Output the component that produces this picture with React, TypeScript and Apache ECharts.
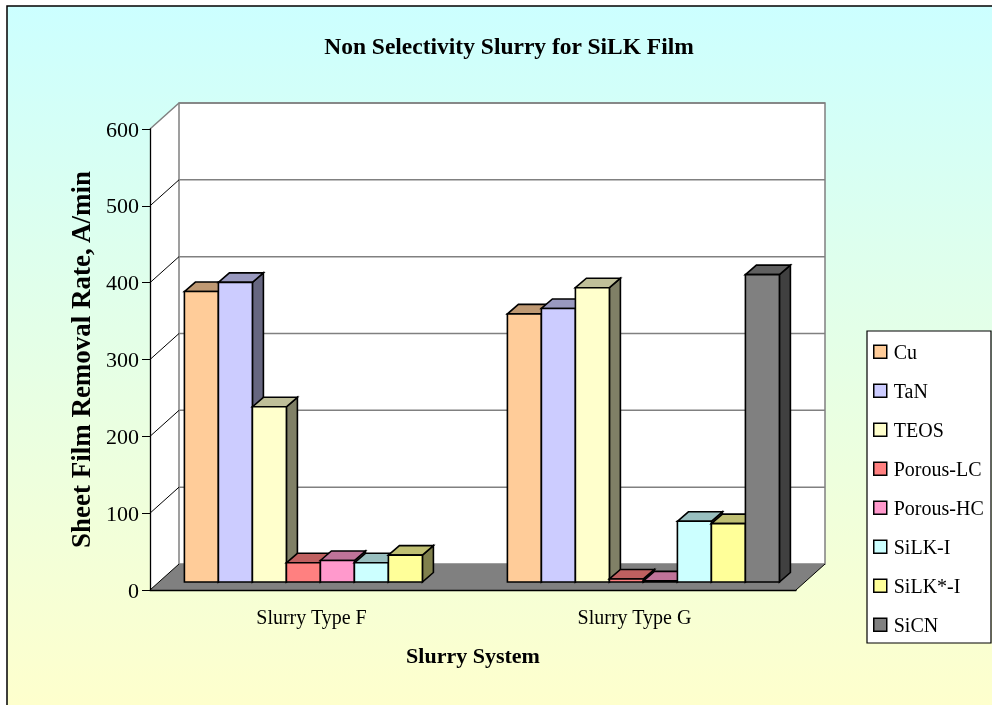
import React, { useEffect, useRef } from 'react';
import * as echarts from 'echarts';

const categories = ['Slurry Type F', 'Slurry Type G'];
const seriesNames = ['Cu', 'TaN', 'TEOS', 'Porous-LC', 'Porous-HC', 'SiLK-I', 'SiLK*-I', 'SiCN'];
const cuValues = [378, 349];
const tanValues = [390, 356];
const teosValues = [228, 383];
const porousLcValues = [25, 4];
const porousHcValues = [28, 1.5];
const silkIValues = [25, 79];
const silkStarIValues = [35, 76];
const sicnValues: (number | null)[] = [null, 400];
const seriesValues = [cuValues, tanValues, teosValues, porousLcValues, porousHcValues, silkIValues, silkStarIValues, sicnValues];
const yMin = 0;
const yMax = 600;
const yStep = 100;
const yTicks = [0, 100, 200, 300, 400, 500, 600];

const frontColors = ['#FFCC99', '#CCCCFF', '#FFFFCC', '#FF8080', '#FF99CC', '#CCFFFF', '#FFFF99', '#808080'];

const shade = (hex: string, f: number) => {
  const n = parseInt(hex.slice(1), 16);
  const r = Math.round(((n >> 16) & 255) * f);
  const g = Math.round(((n >> 8) & 255) * f);
  const b = Math.round((n & 255) * f);
  return `rgb(${r},${g},${b})`;
};

// 3D geometry (pixels)
const DX = 29;
const DY = 26;
const FRONT_DX = 8.9;
const FRONT_DY = 8;
const BAR_DX = 11;
const BAR_DY = 9.5;
const BAR_RATIO = 34 / 323;
const SERIF = "'Liberation Serif', 'Times New Roman', serif";

export default function App() {
  const ref = useRef<HTMLDivElement>(null);
  useEffect(() => {
    if (!ref.current) return;
    const chart = echarts.init(ref.current, null, { renderer: 'svg' });

    const wallSeries: any = {
      type: 'custom',
      z: 1,
      silent: true,
      clip: false,
      data: [[0, 0]],
      encode: { x: 0, y: 1 },
      renderItem: (params: any, api: any) => {
        const cs = params.coordSys;
        const x0 = cs.x;
        const x1 = cs.x + cs.width;
        const yb = cs.y + cs.height;
        const yt = api.coord([0, yMax])[1];
        const children: any[] = [];
        children.push({
          type: 'polygon',
          shape: { points: [[x0, yt], [x0 + DX, yt - DY], [x0 + DX, yb - DY], [x0, yb]] },
          style: { fill: '#ffffff', stroke: null },
        });
        children.push({
          type: 'rect',
          shape: { x: x0 + DX, y: yt - DY, width: x1 - x0, height: yb - yt },
          style: { fill: '#ffffff', stroke: '#808080', lineWidth: 1.5 },
        });
        children.push({
          type: 'polygon',
          shape: { points: [[x0, yb], [x0 + DX, yb - DY], [x1 + DX, yb - DY], [x1, yb]] },
          style: { fill: '#808080', stroke: null },
        });
        yTicks.forEach((v) => {
          const y = api.coord([0, v])[1];
          if (v !== yMin) {
            children.push({
              type: 'line',
              shape: { x1: x0 + DX, y1: y - DY, x2: x1 + DX, y2: y - DY },
              style: { stroke: '#808080', lineWidth: 1.5 },
            });
          }
          children.push({
            type: 'line',
            shape: { x1: x0, y1: y, x2: x0 + DX, y2: y - DY },
            style: { stroke: v === yMax ? '#808080' : '#000000', lineWidth: v === yMax ? 1.5 : 1 },
          });
        });
        children.push({
          type: 'line',
          shape: { x1: x1, y1: yb, x2: x1 + DX, y2: yb - DY },
          style: { stroke: '#000000', lineWidth: 1 },
        });
        return { type: 'group', children };
      },
    };

    const barSeries = seriesNames.map((name, k) => ({
      type: 'custom',
      name,
      z: 2,
      clip: false,
      itemStyle: { color: frontColors[k] },
      encode: { x: 0, y: 1 },
      data: seriesValues[k]
        .map((v, i) => (v == null ? null : [i, v]))
        .filter((d) => d !== null),
      renderItem: (params: any, api: any) => {
        const v = api.value(1);
        if (v == null || isNaN(v)) return null;
        const cat = api.value(0);
        const base = api.coord([cat, 0]);
        const topP = api.coord([cat, v]);
        const band = api.size([1, 0])[0];
        const barW = band * BAR_RATIO;
        const gap = (band - seriesNames.length * barW) / 2;
        const fx = base[0] - band / 2 + gap + k * barW + FRONT_DX;
        const yb = base[1] - FRONT_DY;
        const yt = topP[1] - FRONT_DY;
        const stroke = { stroke: '#000000', lineWidth: 1.6, lineJoin: 'miter' };
        return {
          type: 'group',
          children: [
            {
              type: 'polygon',
              shape: { points: [[fx + barW, yt], [fx + barW + BAR_DX, yt - BAR_DY], [fx + barW + BAR_DX, yb - BAR_DY], [fx + barW, yb]] },
              style: { fill: shade(frontColors[k], 0.5), ...stroke },
            },
            {
              type: 'polygon',
              shape: { points: [[fx, yt], [fx + BAR_DX, yt - BAR_DY], [fx + barW + BAR_DX, yt - BAR_DY], [fx + barW, yt]] },
              style: { fill: shade(frontColors[k], 0.75), ...stroke },
            },
            {
              type: 'rect',
              shape: { x: fx, y: yt, width: barW, height: yb - yt },
              style: { fill: frontColors[k], ...stroke },
            },
          ],
        };
      },
    }));

    chart.setOption({
      animation: false,
      title: {
        text: 'Non Selectivity Slurry for SiLK Film',
        left: 509,
        top: 34,
        textAlign: 'center',
        padding: 0,
        textStyle: { fontFamily: SERIF, fontWeight: 'bold', fontSize: 23.5, color: '#000' },
      },
      graphic: {
        elements: [
          {
            type: 'rect',
            z: -100,
            silent: true,
            shape: { x: 7, y: 6, width: 1100, height: 712 },
            style: {
              fill: new echarts.graphic.LinearGradient(0, 0, 0, 1, [
                { offset: 0, color: '#CCFFFF' },
                { offset: 1, color: '#FFFFCC' },
              ]),
              stroke: '#000000',
              lineWidth: 1.5,
            },
          },
          {
            type: 'rect',
            z: 3,
            silent: true,
            shape: { x: 867, y: 331, width: 124, height: 312 },
            style: { fill: '#ffffff', stroke: '#000000', lineWidth: 1.2 },
          },
        ],
      },
      legend: {
        data: seriesNames,
        orient: 'vertical',
        left: 867,
        top: 331,
        z: 4,
        padding: [10.7, 6, 8, 6],
        itemGap: 19,
        itemWidth: 13,
        itemHeight: 13,
        icon: 'rect',
        selectedMode: false,
        itemStyle: { borderColor: '#000000', borderWidth: 1.5 },
        textStyle: { fontFamily: SERIF, fontSize: 20, lineHeight: 20, color: '#000', padding: [0, 0, 0, 2] },
      },
      grid: { left: 150, right: 196, top: 129, bottom: 115, containLabel: false },
      xAxis: {
        type: 'category',
        data: categories,
        z: 3,
        name: 'Slurry System',
        nameLocation: 'middle',
        nameGap: 54,
        nameTextStyle: { fontFamily: SERIF, fontWeight: 'bold', fontSize: 22, color: '#000' },
        axisLine: { lineStyle: { color: '#000', width: 1.3 } },
        axisTick: { length: 8, lineStyle: { color: '#000', width: 1 } },
        axisLabel: { fontFamily: SERIF, fontSize: 20, color: '#000', margin: 17 },
        splitLine: { show: false },
      },
      yAxis: {
        type: 'value',
        min: yMin,
        max: yMax,
        interval: yStep,
        z: 3,
        name: 'Sheet Film Removal Rate, A/min',
        nameLocation: 'middle',
        nameGap: 56,
        nameRotate: 90,
        nameTextStyle: { fontFamily: SERIF, fontWeight: 'bold', fontSize: 27, color: '#000' },
        axisLine: { show: true, lineStyle: { color: '#000', width: 1.3 } },
        axisTick: { show: true, length: 8, lineStyle: { color: '#000', width: 1 } },
        axisLabel: { fontFamily: SERIF, fontSize: 22, color: '#000', margin: 11 },
        splitLine: { show: false },
      },
      series: [wallSeries, ...barSeries],
    });
    return () => chart.dispose();
  }, []);
  return <div ref={ref} style={{ position: 'fixed', left: 0, top: 0, width: 992, height: 705 }} />;
}
